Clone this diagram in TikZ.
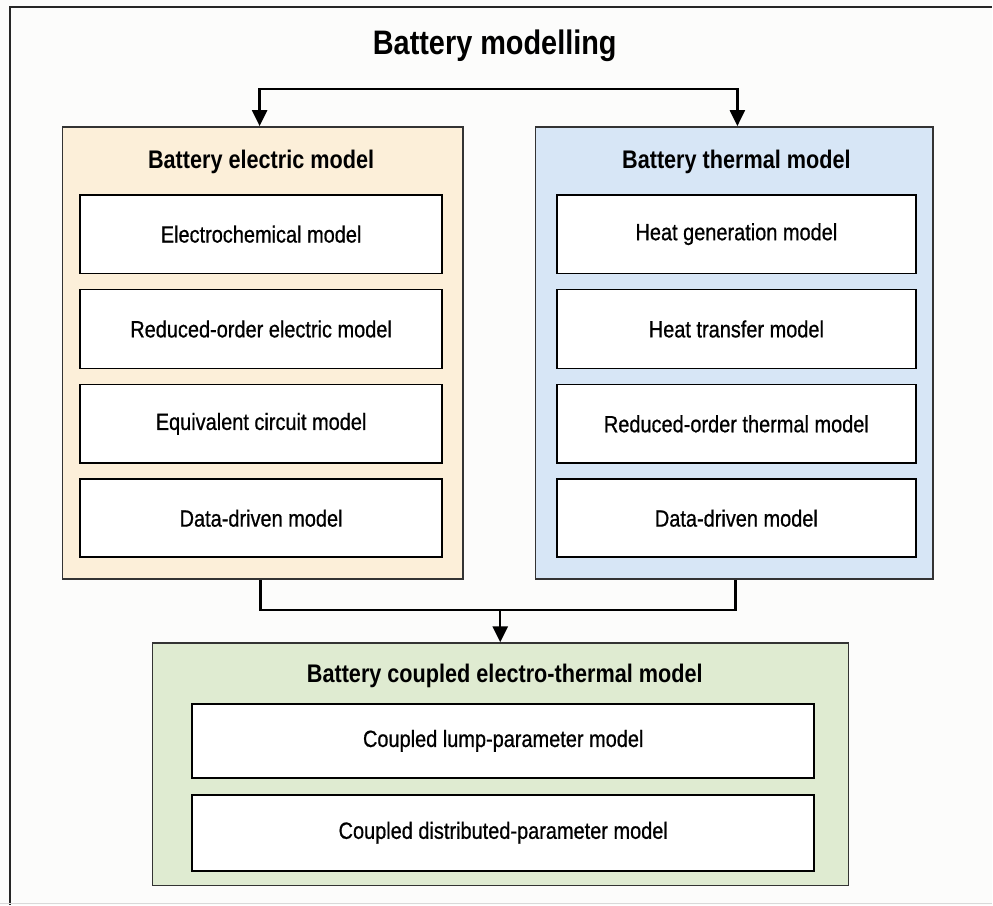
\documentclass[tikz,border=0pt]{standalone}
\usepackage{fontspec}
\setmainfont{Liberation Sans}[FakeStretch=0.85]
\newfontfamily\itemfont{Liberation Sans}[FakeStretch=0.85,FakeBold=0.7]
\usetikzlibrary{arrows.meta}
\definecolor{bg}{HTML}{FCFCFB}
\definecolor{peach}{HTML}{FCEFD9}
\definecolor{skyb}{HTML}{D7E6F6}
\definecolor{sage}{HTML}{DFEBD1}
\definecolor{edge}{HTML}{333333}
\begin{document}
\begin{tikzpicture}[x=1pt,y=-1pt,
  group/.style={draw=edge,line width=1.4pt,inner sep=0pt,minimum height=453pt},
  item/.style={draw=black,line width=1.8pt,fill=white,inner sep=0pt,minimum height=79pt,
    font=\itemfont\fontsize{23.5}{26}\selectfont},
  head/.style={font=\fontsize{25.5}{28}\selectfont\bfseries,inner sep=0pt},
  conn/.style={draw=black,line width=2.4pt},
  arr/.style={conn,-{Triangle[width=15pt,length=16pt]}}
]
\path[fill=bg] (0,0) rectangle (993,906);
\draw[line width=2pt,draw=black!85] (10,906) -- (10,7) -- (993,7);
\draw[line width=1pt,draw=black!15] (0,905) -- (993,905);

\node[font=\fontsize{34}{38}\selectfont\bfseries,inner sep=0pt] (title) at (495,46) {Battery modelling};

% electric group
\node[group,fill=peach,minimum width=401pt] (elec) at (262.5,353.5) {};
\node[head] (elech) at (261,162) {Battery electric model};
\node[item,minimum width=362pt] (e1) at (261,234.5) {Electrochemical model};
\node[item,minimum width=362pt] (e2) at (261,329.5) {Reduced-order electric model};
\node[item,minimum width=362pt] (e3) at (261,424.5) {Equivalent circuit model};
\node[item,minimum width=362pt,minimum height=78pt] (e4) at (261,519) {Data-driven model};

% thermal group
\node[group,fill=skyb,minimum width=398pt] (therm) at (735,353.5) {};
\node[head] (thermh) at (737,162) {Battery thermal model};
\node[item,minimum width=360pt] (t1) at (737,234.5) {Heat generation model};
\node[item,minimum width=360pt] (t2) at (737,329.5) {Heat transfer model};
\node[item,minimum width=360pt] (t3) at (737,424.5) {Reduced-order thermal model};
\node[item,minimum width=360pt,minimum height=78pt] (t4) at (737,519) {Data-driven model};

% coupled group
\node[group,fill=sage,minimum width=697pt,minimum height=243pt] (coup) at (500.5,765.5) {};
\node[head] (couph) at (505,677) {Battery coupled electro-thermal model};
\node[item,minimum width=623pt,minimum height=74pt] (c1) at (503.5,742) {Coupled lump-parameter model};
\node[item,minimum width=623pt,minimum height=76pt] (c2) at (503.5,834) {Coupled distributed-parameter model};

% connectors
\coordinate (hub) at (498,89);
\draw[arr] (hub) -| ([xshift=-3pt]elec.north);
\draw[arr] (hub) -| ([xshift=3pt]therm.north);
\coordinate (mid) at (500.5,611);
\draw[conn] ([xshift=-2pt]elec.south) |- (mid) -| ([xshift=1pt]therm.south);
\draw[arr] (mid) -- (coup.north);
\end{tikzpicture}
\end{document}
